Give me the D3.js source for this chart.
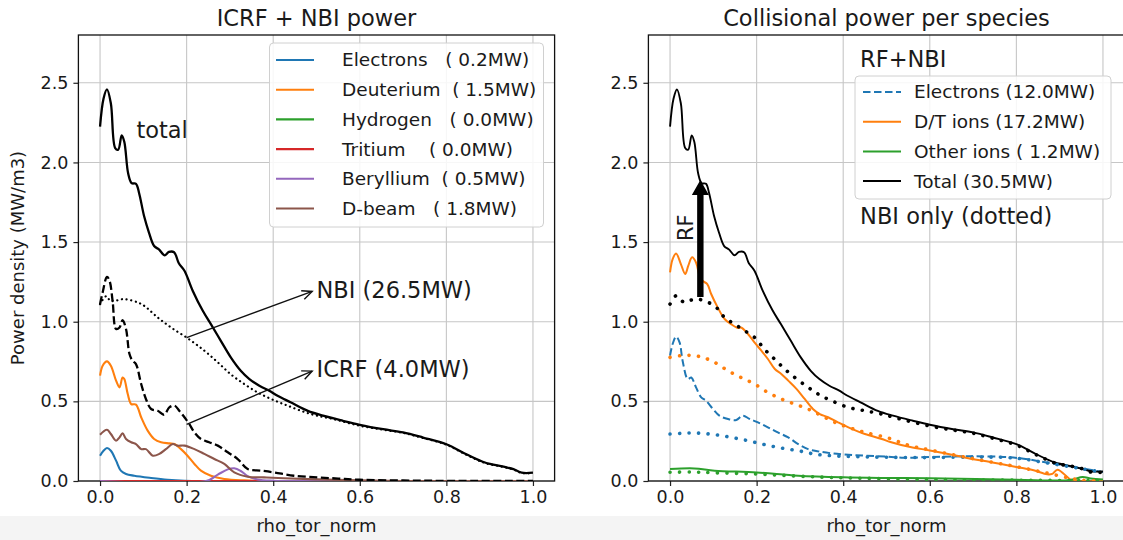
<!DOCTYPE html>
<html><head><meta charset="utf-8">
<script src="https://cdn.jsdelivr.net/npm/d3@7"></script>
<style>body{margin:0;background:#fff}svg{display:block}text{font-family:"DejaVu Sans",sans-serif;fill:#1a1a1a}</style>
</head><body><svg id="c" width="1123" height="540"></svg>
<script>
// ---------- data ----------
const xTicks = [0, 0.2, 0.4, 0.6, 0.8, 1.0];
const yTicks = [0, 0.5, 1.0, 1.5, 2.0, 2.5];

// Left panel: ICRF + NBI power
const leftSpecies = ["Electrons", "Deuterium", "Hydrogen", "Tritium", "Beryllium", "D-beam"];
const leftLabels = ["Electrons   ( 0.2MW)", "Deuterium  ( 1.5MW)", "Hydrogen   ( 0.0MW)", "Tritium    ( 0.0MW)", "Beryllium  ( 0.5MW)", "D-beam   ( 1.8MW)"];
const leftColors = ["#1f77b4", "#ff7f0e", "#2ca02c", "#d62728", "#9467bd", "#8c564b"];

const electronsAbs = [[0,0.159],[0.008,0.19],[0.016,0.207],[0.025,0.19],[0.037,0.128],[0.048,0.065],[0.06,0.044],[0.079,0.033],[0.118,0.019],[0.156,0.008],[0.195,0.002],[0.25,0],[1.0,0]];
const deuteriumAbs = [[0,0.661],[0.006,0.724],[0.016,0.751],[0.025,0.724],[0.037,0.63],[0.045,0.588],[0.052,0.65],[0.056,0.64],[0.064,0.546],[0.072,0.483],[0.083,0.48],[0.095,0.4],[0.11,0.316],[0.125,0.264],[0.141,0.243],[0.16,0.236],[0.172,0.232],[0.187,0.2],[0.202,0.159],[0.218,0.107],[0.233,0.065],[0.256,0.033],[0.287,0.013],[0.333,0.004],[0.4,0],[1.0,0]];
const hydrogenAbs = [[0,0],[1.0,0]];
const tritiumAbs = [[0,0],[1.0,0]];
const berylliumAbs = [[0,0],[0.245,0],[0.272,0.04],[0.295,0.073],[0.31,0.08],[0.325,0.063],[0.341,0.031],[0.364,0.01],[0.4,0.002],[0.5,0],[1.0,0]];
const dbeamAbs = [[0,0.291],[0.016,0.322],[0.025,0.295],[0.037,0.253],[0.045,0.274],[0.052,0.3],[0.06,0.264],[0.072,0.243],[0.083,0.232],[0.095,0.2],[0.106,0.2],[0.122,0.159],[0.137,0.17],[0.152,0.2],[0.168,0.232],[0.179,0.222],[0.195,0.222],[0.218,0.2],[0.241,0.17],[0.264,0.138],[0.287,0.107],[0.31,0.054],[0.341,0.027],[0.379,0.023],[0.425,0.017],[0.502,0.01],[0.6,0.004],[0.7,0],[1.0,0]];

const totalPower = [[0,2.225],[0.008,2.40],[0.016,2.458],[0.025,2.37],[0.035,2.09],[0.042,2.08],[0.05,2.17],[0.056,2.13],[0.065,1.93],[0.073,1.87],[0.083,1.866],[0.09,1.81],[0.102,1.66],[0.113,1.56],[0.125,1.475],[0.136,1.454],[0.149,1.417],[0.159,1.438],[0.171,1.436],[0.182,1.367],[0.195,1.32],[0.214,1.195],[0.237,1.07],[0.256,0.985],[0.279,0.88],[0.302,0.776],[0.325,0.692],[0.345,0.64],[0.368,0.598],[0.391,0.567],[0.41,0.535],[0.44,0.494],[0.48,0.44],[0.515,0.41],[0.561,0.378],[0.6,0.353],[0.654,0.325],[0.70,0.305],[0.746,0.273],[0.80,0.231],[0.846,0.168],[0.889,0.116],[0.932,0.09],[0.955,0.074],[0.974,0.052],[1.0,0.052]];
const nbiPower = [[0,1.11],[0.014,1.16],[0.025,1.13],[0.056,1.142],[0.087,1.121],[0.102,1.10],[0.133,1.027],[0.164,0.964],[0.202,0.897],[0.241,0.818],[0.272,0.745],[0.302,0.67],[0.333,0.609],[0.364,0.556],[0.395,0.515],[0.433,0.473],[0.487,0.42],[0.538,0.389],[0.6,0.347],[0.654,0.322],[0.70,0.302],[0.746,0.27],[0.80,0.228],[0.846,0.165],[0.889,0.113],[0.932,0.088],[0.955,0.072],[0.974,0.05],[1.0,0.05]];
const icrfPower = [[0,1.11],[0.006,1.184],[0.016,1.282],[0.022,1.257],[0.029,1.13],[0.037,0.954],[0.045,0.964],[0.052,1.01],[0.06,0.954],[0.068,0.797],[0.075,0.755],[0.083,0.734],[0.095,0.609],[0.106,0.515],[0.118,0.452],[0.133,0.441],[0.148,0.416],[0.16,0.462],[0.172,0.473],[0.183,0.441],[0.195,0.4],[0.206,0.358],[0.218,0.305],[0.233,0.264],[0.252,0.243],[0.272,0.222],[0.295,0.18],[0.318,0.138],[0.341,0.075],[0.372,0.065],[0.402,0.054],[0.448,0.033],[0.502,0.023],[0.55,0.015],[0.6,0.008],[0.7,0.003],[0.8,0.001],[1.0,0]];
const leftAnnotations = [
  {text: "NBI (26.5MW)", from: [0.2, 0.9], to: [0.49, 1.19], at: [0.5, 1.2]},
  {text: "ICRF (4.0MW)", from: [0.2, 0.355], to: [0.49, 0.69], at: [0.5, 0.7]}
];
const totalLabel = {text: "total", at: [0.084, 2.2]};

// Right panel: collisional power per species
const rightLabels = ["Electrons (12.0MW)", "D/T ions (17.2MW)", "Other ions ( 1.2MW)", "Total (30.5MW)"];
const rightColors = ["#1f77b4", "#ff7f0e", "#2ca02c", "#000000"];
const collElectrons = [[0,0.787],[0.006,0.86],[0.014,0.906],[0.022,0.87],[0.029,0.755],[0.041,0.64],[0.049,0.65],[0.06,0.588],[0.072,0.525],[0.083,0.504],[0.099,0.452],[0.114,0.41],[0.134,0.389],[0.153,0.383],[0.168,0.41],[0.184,0.389],[0.203,0.368],[0.226,0.337],[0.249,0.305],[0.273,0.274],[0.296,0.232],[0.319,0.2],[0.342,0.186],[0.373,0.174],[0.412,0.165],[0.45,0.159],[0.504,0.153],[0.54,0.146],[0.6,0.151],[0.694,0.155],[0.771,0.151],[0.817,0.14],[0.863,0.119],[0.91,0.098],[0.956,0.077],[1.0,0.056]];
const collDT = [[0,1.31],[0.006,1.393],[0.014,1.429],[0.025,1.362],[0.035,1.299],[0.042,1.351],[0.051,1.404],[0.06,1.372],[0.068,1.289],[0.075,1.257],[0.086,1.236],[0.095,1.174],[0.11,1.09],[0.126,1.017],[0.141,0.985],[0.157,0.96],[0.164,0.964],[0.18,0.923],[0.195,0.87],[0.211,0.818],[0.226,0.766],[0.242,0.703],[0.257,0.672],[0.273,0.63],[0.292,0.578],[0.311,0.515],[0.33,0.452],[0.346,0.42],[0.365,0.4],[0.388,0.368],[0.412,0.337],[0.45,0.295],[0.489,0.264],[0.509,0.245],[0.555,0.213],[0.6,0.192],[0.648,0.167],[0.694,0.14],[0.74,0.119],[0.8,0.088],[0.84,0.067],[0.871,0.042],[0.883,0.045],[0.895,0.071],[0.925,0.01],[0.937,0],[1.0,0]];
const collOther = [[0,0.075],[0.056,0.079],[0.103,0.065],[0.2,0.054],[0.296,0.033],[0.4,0.023],[0.504,0.019],[0.6,0.017],[0.8,0.008],[0.925,0.006],[0.953,0.025],[0.972,0.015],[1.0,0.01]];
const collTotal = [[0,2.225],[0.008,2.40],[0.016,2.458],[0.025,2.37],[0.035,2.09],[0.042,2.08],[0.05,2.17],[0.056,2.13],[0.065,1.93],[0.073,1.87],[0.083,1.866],[0.09,1.81],[0.102,1.66],[0.113,1.56],[0.125,1.475],[0.136,1.454],[0.149,1.417],[0.159,1.438],[0.171,1.436],[0.182,1.367],[0.195,1.32],[0.214,1.195],[0.237,1.07],[0.256,0.985],[0.279,0.88],[0.302,0.776],[0.325,0.692],[0.345,0.64],[0.368,0.598],[0.391,0.567],[0.41,0.535],[0.44,0.494],[0.48,0.44],[0.515,0.41],[0.561,0.378],[0.6,0.353],[0.654,0.325],[0.70,0.305],[0.746,0.273],[0.80,0.231],[0.846,0.168],[0.889,0.116],[0.932,0.09],[0.955,0.074],[0.974,0.06],[1.0,0.06]];
const nbiElectrons = [[0,0.295],[0.025,0.299],[0.064,0.301],[0.103,0.291],[0.141,0.274],[0.18,0.253],[0.219,0.228],[0.257,0.207],[0.296,0.19],[0.334,0.169],[0.373,0.159],[0.427,0.153],[0.504,0.149],[0.6,0.147],[0.7,0.15],[0.771,0.148],[0.817,0.138],[0.863,0.117],[0.91,0.096],[0.956,0.075],[1.0,0.055]];
const nbiDT = [[0,0.776],[0.025,0.787],[0.056,0.787],[0.08,0.772],[0.103,0.745],[0.134,0.692],[0.164,0.65],[0.195,0.609],[0.226,0.556],[0.257,0.515],[0.288,0.483],[0.319,0.452],[0.35,0.41],[0.381,0.368],[0.412,0.337],[0.45,0.305],[0.504,0.27],[0.55,0.225],[0.6,0.195],[0.7,0.14],[0.8,0.09],[0.87,0.05],[0.92,0.02],[0.95,0.005],[1.0,0]];
const nbiOther = [[0,0.055],[0.05,0.056],[0.1,0.052],[0.2,0.044],[0.3,0.03],[0.4,0.02],[0.6,0.01],[0.8,0.005],[1.0,0.002]];
const nbiTotal = [[0,1.111],[0.014,1.163],[0.033,1.121],[0.049,1.136],[0.064,1.142],[0.083,1.126],[0.103,1.1],[0.126,1.027],[0.149,0.985],[0.172,0.944],[0.195,0.902],[0.218,0.828],[0.241,0.766],[0.265,0.703],[0.288,0.65],[0.319,0.588],[0.342,0.546],[0.373,0.504],[0.412,0.462],[0.45,0.441],[0.489,0.42],[0.538,0.385],[0.6,0.345],[0.654,0.32],[0.70,0.3],[0.746,0.268],[0.80,0.226],[0.846,0.165],[0.889,0.113],[0.932,0.09],[0.955,0.075],[0.974,0.055],[1.0,0.055]];
const rfArrow = {x: 0.07, from: 1.155, to: 1.89};
const rightTexts = [
  {text: "RF+NBI", at: [0.439, 2.65]},
  {text: "NBI only (dotted)", at: [0.439, 1.66]}
];
const rfLabel = {text: "RF", at: [0.037, 1.59]};

// ---------- drawing ----------
const svg = d3.select("#c");
svg.append("rect").attr("width", 1123).attr("height", 540).attr("fill", "#fff");
svg.append("rect").attr("y", 516).attr("width", 1123).attr("height", 24).attr("fill", "#f4f4f4");

const Y = d3.scaleLinear().domain([0, 2.8]).range([481, 35]);
const XL = d3.scaleLinear().domain([-0.05, 1.05]).range([78.4, 554.6]);
const XR = d3.scaleLinear().domain([-0.05, 1.05]).range([648.4, 1124.6]);
const fmt = d3.format(".1f");

const defs = svg.append("defs");
function panel(X, id, title) {
  const [x0, x1] = X.range(), [yb, yt] = Y.range();
  defs.append("clipPath").attr("id", id).append("rect")
    .attr("x", x0).attr("y", yt).attr("width", x1 - x0).attr("height", yb - yt);
  const g = svg.append("g");
  g.append("g").selectAll("line").data(xTicks).join("line")
    .attr("x1", d => X(d)).attr("x2", d => X(d)).attr("y1", yt).attr("y2", yb)
    .attr("stroke", "#c6c6c6").attr("stroke-width", 1.1);
  g.append("g").selectAll("line").data(yTicks).join("line")
    .attr("x1", x0).attr("x2", x1).attr("y1", d => Y(d)).attr("y2", d => Y(d))
    .attr("stroke", "#c6c6c6").attr("stroke-width", 1.1);
  const ax = g.append("g").attr("transform", `translate(0,${yb})`)
    .call(d3.axisBottom(X).tickValues(xTicks).tickFormat(fmt).tickSize(5).tickPadding(5));
  const ay = g.append("g").attr("transform", `translate(${x0},0)`)
    .call(d3.axisLeft(Y).tickValues(yTicks).tickFormat(fmt).tickSize(5).tickPadding(5));
  [ax, ay].forEach(a => {
    a.select(".domain").remove();
    a.selectAll("line").attr("stroke", "#222").attr("stroke-width", 1.2);
    a.selectAll("text").attr("font-size", 17.5).attr("fill", "#1a1a1a").style("font-family", "DejaVu Sans");
  });
  g.append("rect").attr("x", x0).attr("y", yt).attr("width", x1 - x0).attr("height", yb - yt)
    .attr("fill", "none").attr("stroke", "#111").attr("stroke-width", 1.3);
  g.append("text").attr("x", (x0 + x1) / 2).attr("y", 26).attr("text-anchor", "middle")
    .attr("font-size", 22.5).text(title);
  g.append("text").attr("x", (x0 + x1) / 2).attr("y", 532).attr("text-anchor", "middle")
    .attr("font-size", 18).text("rho_tor_norm");
  return svg.append("g").attr("clip-path", `url(#${id})`);
}

function drawLine(g, X, data, color, width, dash) {
  const line = d3.line().x(d => X(d[0])).y(d => Y(d[1])).curve(d3.curveCatmullRom.alpha(0.5));
  g.append("path").datum(data).attr("d", line).attr("fill", "none")
    .attr("stroke", color).attr("stroke-width", width)
    .attr("stroke-dasharray", dash || null).attr("stroke-linejoin", "round")
    .attr("stroke-linecap", dash && dash.startsWith("0") ? "round" : "butt");
}

// ----- left panel -----
const pl = panel(XL, "clipL", "ICRF + NBI power");
const leftSeries = [electronsAbs, deuteriumAbs, hydrogenAbs, tritiumAbs, berylliumAbs, dbeamAbs];
leftSeries.forEach((s, i) => drawLine(pl, XL, s, leftColors[i], 2.1));
drawLine(pl, XL, totalPower, "#000", 2.3);
drawLine(pl, XL, nbiPower, "#000", 2.2, "0.1,4.6");
drawLine(pl, XL, icrfPower, "#000", 2.3, "8,3.5");

svg.append("text").attr("x", 18).attr("y", (35 + 481) / 2).attr("text-anchor", "middle")
  .attr("dy", "0.35em").attr("font-size", 18)
  .attr("transform", `rotate(-90,18,${(35 + 481) / 2})`).text("Power density (MW/m3)");

svg.append("text").attr("x", XL(totalLabel.at[0])).attr("y", Y(totalLabel.at[1]))
  .attr("dy", "0.35em").attr("font-size", 22.5).text(totalLabel.text);

function openArrow(p0, p1) {
  const g = svg.append("g").attr("stroke", "#111").attr("stroke-width", 1.4).attr("fill", "none");
  g.append("line").attr("x1", p0[0]).attr("y1", p0[1]).attr("x2", p1[0]).attr("y2", p1[1]);
  const a = Math.atan2(p1[1] - p0[1], p1[0] - p0[0]), L = 11, w = 0.42;
  g.append("path").attr("d",
    `M${p1[0] - L * Math.cos(a - w)},${p1[1] - L * Math.sin(a - w)}L${p1[0]},${p1[1]}L${p1[0] - L * Math.cos(a + w)},${p1[1] - L * Math.sin(a + w)}`);
}
leftAnnotations.forEach(a => {
  openArrow([XL(a.from[0]), Y(a.from[1])], [XL(a.to[0]), Y(a.to[1])]);
  svg.append("text").attr("x", XL(a.at[0])).attr("y", Y(a.at[1])).attr("dy", "0.35em")
    .attr("font-size", 22.5).text(a.text);
});

// left legend
const lg = svg.append("g");
lg.append("rect").attr("x", 269.5).attr("y", 43).attr("width", 274).attr("height", 184).attr("rx", 4)
  .attr("fill", "#fff").attr("fill-opacity", 0.85).attr("stroke", "#d0d0d0").attr("stroke-width", 1);
leftLabels.forEach((t, i) => {
  const yy = 60 + i * 29.7;
  lg.append("line").attr("x1", 276).attr("x2", 314).attr("y1", yy).attr("y2", yy)
    .attr("stroke", leftColors[i]).attr("stroke-width", 2.1);
  lg.append("text").attr("x", 342).attr("y", yy).attr("dy", "0.35em").attr("font-size", 18.5)
    .style("white-space", "pre").attr("xml:space", "preserve").text(t);
});

// ----- right panel -----
const pr = panel(XR, "clipR", "Collisional power per species");
drawLine(pr, XR, collElectrons, rightColors[0], 2.0, "7.5,3.5");
drawLine(pr, XR, collDT, rightColors[1], 2.0);
drawLine(pr, XR, collOther, rightColors[2], 2.0);
drawLine(pr, XR, collTotal, rightColors[3], 1.9);
drawLine(pr, XR, nbiElectrons, rightColors[0], 3.6, "0.1,9.4");
drawLine(pr, XR, nbiDT, rightColors[1], 3.6, "0.1,9.4");
drawLine(pr, XR, nbiOther, rightColors[2], 3.6, "0.1,9.4");
drawLine(pr, XR, nbiTotal, rightColors[3], 3.6, "0.1,9.4");

{
  const x = XR(rfArrow.x), yb = Y(rfArrow.from), yt = Y(rfArrow.to);
  const sw = 3.2, hw = 8.5, hl = 15;
  svg.append("path").attr("fill", "#000").attr("d",
    `M${x - sw},${yb}L${x - sw},${yt + hl}L${x - hw},${yt + hl}L${x},${yt}L${x + hw},${yt + hl}L${x + sw},${yt + hl}L${x + sw},${yb}Z`);
  const tx = XR(rfLabel.at[0]), ty = Y(rfLabel.at[1]);
  svg.append("text").attr("x", tx).attr("y", ty).attr("dy", "0.35em").attr("text-anchor", "middle")
    .attr("font-size", 21).attr("transform", `rotate(-90,${tx},${ty})`).text(rfLabel.text);
}
rightTexts.forEach(t => {
  svg.append("text").attr("x", XR(t.at[0])).attr("y", Y(t.at[1])).attr("dy", "0.35em")
    .attr("font-size", 22.5).text(t.text);
});

// right legend
const rg = svg.append("g");
rg.append("rect").attr("x", 855).attr("y", 76).attr("width", 256).attr("height", 123).attr("rx", 4)
  .attr("fill", "#fff").attr("fill-opacity", 0.85).attr("stroke", "#d0d0d0").attr("stroke-width", 1);
rightLabels.forEach((t, i) => {
  const yy = 92 + i * 29.7;
  rg.append("line").attr("x1", 863).attr("x2", 901).attr("y1", yy).attr("y2", yy)
    .attr("stroke", rightColors[i]).attr("stroke-width", 2)
    .attr("stroke-dasharray", i === 0 ? "7.5,3.5" : null);
  rg.append("text").attr("x", 914).attr("y", yy).attr("dy", "0.35em").attr("font-size", 18.5)
    .style("white-space", "pre").attr("xml:space", "preserve").text(t);
});
</script></body></html>
